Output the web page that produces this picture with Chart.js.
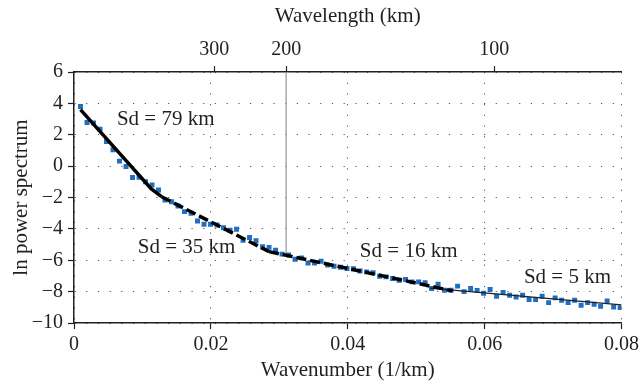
<!DOCTYPE html>
<html><head><meta charset="utf-8">
<script src="https://cdn.jsdelivr.net/npm/chart.js@4"></script>
<style>html,body{margin:0;padding:0;background:#fff;}#wrap{width:643px;height:388px;}</style>
</head><body><div id="wrap"><canvas id="c" width="643" height="388"></canvas></div>
<script>
// Observed spectrum: wavenumber (1/km) and ln power
const wavenumber = [0.00095,0.0019,0.00285,0.0038,0.00475,0.0057,0.00665,0.0076,0.00855,0.0095,
  0.01045,0.0114,0.01235,0.0133,0.01425,0.0152,0.01615,0.0171,0.01805,0.019,
  0.01995,0.0209,0.02185,0.0228,0.02375,0.0247,0.02565,0.0266,0.02755,0.0285,
  0.02945,0.0304,0.03135,0.0323,0.03325,0.0342,0.03515,0.0361,0.03705,0.038,
  0.03895,0.0399,0.04085,0.0418,0.04275,0.0437,0.04465,0.0456,0.04655,0.0475,
  0.04845,0.0494,0.05035,0.0513,0.05225,0.0532,0.05415,0.0551,0.05605,0.057,
  0.05795,0.0589,0.05985,0.0608,0.06175,0.0627,0.06365,0.0646,0.06555,0.0665,
  0.06745,0.0684,0.06935,0.0703,0.07125,0.0722,0.07315,0.0741,0.07505,0.076,
  0.07695,0.0779,0.07885,0.0798];
const lnPower = [3.8,2.78,2.75,2.36,1.57,1.05,0.32,-0.03,-0.73,-0.71,
  -0.99,-1.2,-1.52,-2.16,-2.27,-2.54,-2.9,-3.0,-3.5,-3.71,
  -3.7,-3.75,-3.93,-4.08,-4.03,-4.72,-4.55,-4.76,-5.14,-5.18,
  -5.36,-5.61,-5.67,-5.93,-5.85,-6.17,-6.17,-6.06,-6.31,-6.38,
  -6.44,-6.52,-6.54,-6.68,-6.74,-6.8,-7.02,-7.06,-7.16,-7.27,
  -7.23,-7.38,-7.38,-7.44,-7.8,-7.53,-7.91,-7.91,-7.65,-8.0,
  -7.8,-7.93,-8.1,-7.87,-8.29,-8.06,-8.23,-8.34,-8.23,-8.5,
  -8.5,-8.29,-8.7,-8.4,-8.55,-8.7,-8.55,-8.87,-8.7,-8.8,
  -8.93,-8.6,-8.98,-9.02];

// Fitted segments
const fit79X = [0.00095, 0.0113, 0.0128];
const fit79Y = [3.6, -1.45, -1.95];
const fit35X = [0.0128, 0.0285];
const fit35Y = [-1.95, -5.45];
const fit16X = [0.0285, 0.0553];
const fit16Y = [-5.45, -7.95];
const fit5X = [0.052, 0.08];
const fit5Y = [-7.78, -8.85];

// Marker line at 200 km wavelength
const markerX = [0.031, 0.031];
const markerY = [6, -5.55];

// Top axis: wavelength labels and their wavenumber positions
const wavelengthTicks = [300, 200, 100];
const wavelengthPos = [0.0205, 0.031, 0.0614];

// Annotations
const noteText = ['Sd = 79 km', 'Sd = 35 km', 'Sd = 16 km', 'Sd = 5 km'];
const noteX = [0.0134, 0.01645, 0.0489, 0.0721];
const noteY = [2.95, -5.16, -5.45, -7.11];

const FONT = "'Liberation Serif', 'DejaVu Serif', serif";
const TXT = '#231f20';
const font = {family: FONT, size: 20};
const titleFont = {family: FONT, size: 21};

const pts = (xs, ys) => xs.map((x, i) => ({x, y: ys[i]}));

const notePlugin = {
  id: 'notes',
  afterDatasetsDraw(chart) {
    const {ctx, scales: {x, y}} = chart;
    ctx.save();
    ctx.font = '21px ' + FONT;
    ctx.fillStyle = TXT;
    ctx.textAlign = 'center';
    ctx.textBaseline = 'middle';
    noteText.forEach((t, i) => ctx.fillText(t, x.getPixelForValue(noteX[i]), y.getPixelForValue(noteY[i])));
    ctx.restore();
  }
};

const lineDs = (xs, ys, w, dash, color) => ({
  type: 'line', data: pts(xs, ys), borderColor: color || '#000', borderWidth: w,
  borderDash: dash, pointRadius: 0, fill: false, tension: 0, order: 0
});

new Chart(document.getElementById('c'), {
  data: {
    datasets: [
      Object.assign(lineDs(markerX, markerY, 1.5, [], '#aaaaaa'), {order: 3}),
      {type: 'scatter', data: pts(wavenumber, lnPower), pointStyle: 'rect', pointRadius: 3.5,
       pointBorderWidth: 0, backgroundColor: '#1f6ebf', borderColor: '#1f6ebf', order: 2},
      lineDs(fit79X, fit79Y, 3.5, []),
      lineDs(fit35X, fit35Y, 3.5, [10, 4]),
      lineDs(fit16X, fit16Y, 3.5, [10, 4]),
      lineDs(fit5X, fit5Y, 1.2, [], '#222')
    ]
  },
  options: {
    responsive: false, animation: false, devicePixelRatio: 1,
    layout: {padding: {left: 0, right: 18, top: 0, bottom: 0}},
    plugins: {legend: {display: false}, tooltip: {enabled: false}},
    scales: {
      x: {
        type: 'linear', position: 'bottom', min: 0, max: 0.08,
        afterFit: s => { s.height = 65; },
        ticks: {stepSize: 0.02, color: TXT, font, padding: 4, maxRotation: 0,
          callback: v => Math.abs(v) < 1e-9 ? '0' : v.toFixed(2)},
        grid: {color: '#555', lineWidth: 1, tickLength: 6, tickColor: TXT, tickWidth: 1.2, tickBorderDash: []},
        border: {color: TXT, width: 1.5, dash: [1.2, 9.5]},
        title: {display: true, text: 'Wavenumber (1/km)', color: TXT, font: titleFont, padding: {top: 0, bottom: 5}}
      },
      x2: {
        type: 'linear', position: 'top', min: 0, max: 0.08,
        afterFit: s => { s.height = 72; },
        afterBuildTicks: s => { s.ticks = wavelengthPos.map(v => ({value: v})); },
        ticks: {color: TXT, font, padding: 4, autoSkip: false, maxRotation: 0,
          callback: (v, i) => String(wavelengthTicks[i])},
        grid: {drawOnChartArea: false, tickLength: 6, tickColor: TXT, tickWidth: 1.2},
        border: {color: TXT, width: 1.5},
        title: {display: true, text: 'Wavelength (km)', color: TXT, font: titleFont, padding: {top: 4, bottom: 0}}
      },
      y: {
        type: 'linear', position: 'left', min: -10, max: 6,
        afterFit: s => { s.width = 74; },
        ticks: {stepSize: 2, color: TXT, font, padding: 5,
          callback: v => v < 0 ? '\u2212' + Math.abs(v) : String(v)},
        grid: {color: '#555', lineWidth: 1, tickLength: 6, tickColor: TXT, tickWidth: 1.2, tickBorderDash: []},
        border: {color: TXT, width: 1.5, dash: [1.2, 10.5]},
        title: {display: true, text: 'ln power spectrum', color: TXT, font: titleFont, padding: {top: 9, bottom: 0}}
      }
    }
  },
  plugins: [notePlugin]
});
</script></body></html>
